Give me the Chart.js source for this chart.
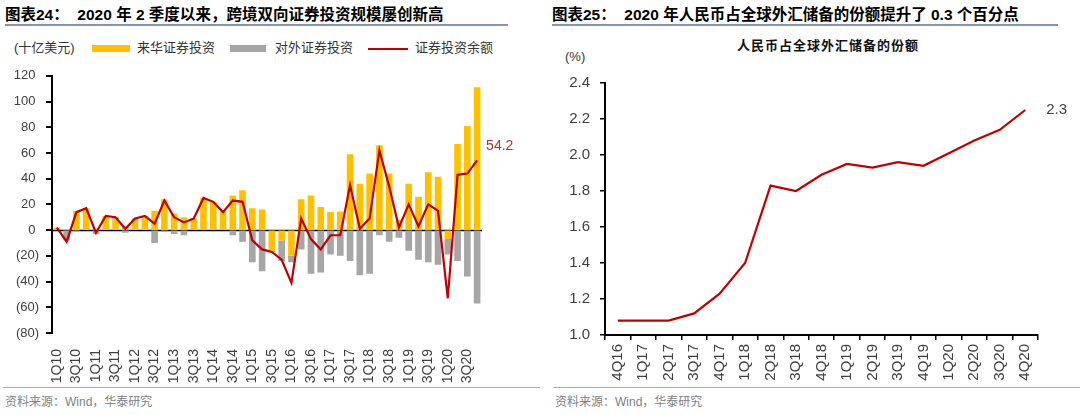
<!DOCTYPE html>
<html>
<head>
<meta charset="utf-8">
<script src="https://cdn.jsdelivr.net/npm/chart.js@4.4.0/dist/chart.umd.min.js"></script>
<style>
  body { margin: 0; width: 1080px; height: 415px; background: #fff; position: relative; overflow: hidden;
         font-family: "Liberation Sans", "Noto Sans CJK SC", sans-serif; }
  .abs { position: absolute; white-space: nowrap; }
  .title { top: 5px; font-size: 15.5px; font-weight: bold; color: #000; line-height: 20px; }
  .rule { position: absolute; height: 2px; background: #8496B0; }
  .rule2 { position: absolute; height: 1px; background: #9DB0CC; }
  .src { top: 392px; font-size: 12px; color: #7f7f7f; }
  .lg { top: 40px; font-size: 13px; color: #333; line-height: 16px; }
  .sw { position: absolute; }
  .ax { position: absolute; background: #000; z-index: 5; }
  canvas { position: absolute; }
</style>
</head>
<body>
<div class="abs title" style="left:5px;">图表24：&nbsp;&nbsp;2020 年 2 季度以来，跨境双向证券投资规模屡创新高</div>
<div class="rule" style="left:5px; top:24px; width:503px;"></div>
<div class="abs title" style="left:552px;">图表25：&nbsp;&nbsp;2020 年人民币占全球外汇储备的份额提升了 0.3 个百分点</div>
<div class="rule" style="left:552px; top:24px; width:506px;"></div>

<div class="abs lg" style="left:14px;">(十亿美元)</div>
<div class="sw" style="left:92px; top:45px; width:38px; height:7px; background:#FFC000;"></div>
<div class="abs lg" style="left:137px;">来华证券投资</div>
<div class="sw" style="left:230px; top:45px; width:36px; height:7px; background:#A6A6A6;"></div>
<div class="abs lg" style="left:275px;">对外证券投资</div>
<div class="sw" style="left:368px; top:48px; width:40px; height:2px; background:#C00000;"></div>
<div class="abs lg" style="left:415px;">证券投资余额</div>

<div class="abs" style="left:737px; top:35px; font-size:13px; font-weight:bold; letter-spacing:1px; color:#111;">人民币占全球外汇储备的份额</div>
<div class="abs" style="left:565px; top:49px; font-size:13px; color:#333;">(%)</div>

<canvas id="chartLeft" width="530" height="323" style="left:10px; top:60px;"></canvas>
<canvas id="chartRight" width="540" height="327" style="left:540px; top:60px;"></canvas>

<div class="rule2" style="left:3px; top:387px; width:537px;"></div>
<div class="rule2" style="left:553px; top:387px; width:527px;"></div>
<div class="abs src" style="left:5px;">资料来源：Wind，华泰研究</div>
<div class="abs src" style="left:555px;">资料来源：Wind，华泰研究</div>

<script>
// 图表24 data, 1Q10 - 4Q20
const quarters = [
  "1Q10","2Q10","3Q10","4Q10","1Q11","2Q11","3Q11","4Q11",
  "1Q12","2Q12","3Q12","4Q12","1Q13","2Q13","3Q13","4Q13",
  "1Q14","2Q14","3Q14","4Q14","1Q15","2Q15","3Q15","4Q15",
  "1Q16","2Q16","3Q16","4Q16","1Q17","2Q17","3Q17","4Q17",
  "1Q18","2Q18","3Q18","4Q18","1Q19","2Q19","3Q19","4Q19",
  "1Q20","2Q20","3Q20","4Q20"
];
const inflow = [
  2, 0, 15, 17, 1, 11, 8, 3,
  7, 11, 15, 24, 13, 10, 9, 25,
  22, 15, 27, 31, 17, 16, -16, -8,
  -20, 24, 27, 18, 14, 14.5, 59, 36,
  44, 66, 44, 8, 36, 26, 45, 41.5,
  -7, 67, 81, 111
];
const outflow = [
  0, -8, -1, 0, -3, 0, 2, -2,
  2, 0, -10, -1, -3, -4, 0, 0,
  0, 0, -4, -9, -25, -32, -1, -16,
  -5, -15, -34, -33, -19, -20, -24, -35,
  -34, -4, -9, -6, -16, -23, -25, -27,
  -12, -24, -36, -57
];
const balance = [
  2, -9, 14, 17, -2, 11, 10, 1,
  9, 11, 5, 23, 10, 6, 9, 25,
  22, 14, 23, 22, -8, -15, -17, -23,
  -41, 9, -7, -15, -4, -4, 35, 1,
  9, 62, 34, 2, 20, 3, 20, 15,
  -53, 43, 44, 54.2
];

// 图表25 data
const shareQuarters = [
  "4Q16","1Q17","2Q17","3Q17","4Q17","1Q18","2Q18","3Q18","4Q18",
  "1Q19","2Q19","3Q19","4Q19","1Q20","2Q20","3Q20","4Q20"
];
const rmbShare = [1.08, 1.08, 1.08, 1.12, 1.23, 1.40, 1.83, 1.80, 1.89,
                  1.95, 1.93, 1.96, 1.94, 2.01, 2.08, 2.14, 2.25];

const endLabel = {
  id: "endLabel",
  afterDatasetsDraw(chart, args, opts) {
    const meta = chart.getDatasetMeta(opts.index);
    const pt = meta.data[meta.data.length - 1];
    const ctx = chart.ctx;
    ctx.save();
    ctx.font = opts.font;
    ctx.fillStyle = opts.color;
    ctx.textAlign = "left";
    ctx.textBaseline = "middle";
    ctx.fillText(opts.text, pt.x + opts.dx, pt.y + opts.dy);
    ctx.restore();
  }
};

// zero line across the plot
const zeroLine = {
  id: "zeroLine",
  beforeDatasetsDraw(chart) {
    const ys = chart.scales.y;
    const { left, right } = chart.chartArea;
    const ctx = chart.ctx;
    const y0 = Math.round(ys.getPixelForValue(0)) + 0.5;
    ctx.save();
    ctx.strokeStyle = "#000";
    ctx.lineWidth = 1.5;
    ctx.beginPath();
    ctx.moveTo(left, y0);
    ctx.lineTo(right, y0);
    ctx.stroke();
    ctx.restore();
  }
};

Chart.defaults.font.family = "Liberation Sans";
Chart.defaults.color = "#404040";

const leftCanvas = document.getElementById("chartLeft");
const leftChart = new Chart(leftCanvas, {
  type: "bar",
  data: {
    labels: quarters,
    datasets: [
      { type: "line", label: "证券投资余额", data: balance, stack: "net",
        borderColor: "#C00000", borderWidth: 2.2, pointRadius: 0, tension: 0, order: 0 },
      { label: "来华证券投资", data: inflow, stack: "flow", backgroundColor: "#FFC000",
        barPercentage: 0.68, categoryPercentage: 1, order: 1 },
      { label: "对外证券投资", data: outflow, stack: "flow", backgroundColor: "#A6A6A6",
        barPercentage: 0.68, categoryPercentage: 1, order: 2 }
    ]
  },
  options: {
    responsive: false,
    animation: false,
    devicePixelRatio: 1,
    layout: { padding: { top: 12, right: 58, left: 0, bottom: 0 } },
    plugins: {
      legend: { display: false },
      tooltip: { enabled: false },
      endLabel: { index: 0, text: String(balance[balance.length - 1]), font: "14px Liberation Sans",
                  color: "#B03030", dx: 9, dy: -14 }
    },
    scales: {
      x: {
        stacked: true,
        grid: { display: false },
        border: { display: false },
        ticks: {
          autoSkip: false, maxRotation: 90, minRotation: 90, padding: 8,
          font: { size: 14 }, color: "#404040",
          callback: (v, i) => (i % 2 === 0 ? quarters[i] : "")
        },
        afterFit: s => { s.height = 50; }
      },
      y: {
        stacked: true,
        min: -80, max: 120,
        ticks: {
          stepSize: 20, padding: 8, font: { size: 13 }, color: "#404040",
          callback: v => (v < 0 ? "(" + (-v) + ")" : String(v) + " ")
        },
        grid: { display: true, drawOnChartArea: false, color: "rgba(0,0,0,0)", tickLength: 5 },
        border: { display: false },
        afterFit: s => { s.width = 42; }
      }
    }
  },
  plugins: [zeroLine, endLabel]
});

// left axis line and tick marks, placed from the chart's own y scale
(function drawLeftAxis() {
  const ys = leftChart.scales.y;
  const area = leftChart.chartArea;
  const ox = leftCanvas.offsetLeft, oy = leftCanvas.offsetTop;
  const x = Math.round(ox + area.left);
  const add = (l, t, w, h) => {
    const d = document.createElement("div");
    d.className = "ax";
    d.style.left = l + "px"; d.style.top = t + "px";
    d.style.width = w + "px"; d.style.height = h + "px";
    document.body.appendChild(d);
  };
  add(x - 1, Math.round(oy + area.top) - 1, 2, Math.round(area.bottom - area.top) + 2);
  ys.ticks.forEach(t => {
    const y = Math.round(oy + ys.getPixelForValue(t.value));
    add(x - 6, y - 1, 6, 1.5);
  });
})();

new Chart(document.getElementById("chartRight"), {
  type: "line",
  data: {
    labels: shareQuarters,
    datasets: [
      { label: "人民币占全球外汇储备的份额", data: rmbShare, borderColor: "#C00000",
        borderWidth: 2.2, pointRadius: 0, tension: 0 }
    ]
  },
  options: {
    responsive: false,
    animation: false,
    devicePixelRatio: 1,
    layout: { padding: { top: 23, right: 42, left: 0, bottom: 0 } },
    plugins: {
      legend: { display: false },
      tooltip: { enabled: false },
      endLabel: { index: 0, text: rmbShare[rmbShare.length - 1].toFixed(1), font: "15px Liberation Sans",
                  color: "#404040", dx: 21, dy: 0 }
    },
    scales: {
      x: {
        offset: true,
        grid: { offset: true, drawOnChartArea: false, color: "#000", tickLength: 5, lineWidth: 1.5 },
        border: { display: true, color: "#000", width: 2 },
        ticks: { autoSkip: false, maxRotation: 90, minRotation: 90, padding: 4,
                 font: { size: 15 }, color: "#404040" },
        afterFit: s => { s.height = 52; }
      },
      y: {
        min: 1.0, max: 2.4,
        ticks: { stepSize: 0.2, padding: 10, font: { size: 15 }, color: "#404040",
                 callback: v => v.toFixed(1) },
        grid: { drawOnChartArea: false, color: "#000", tickLength: 5, lineWidth: 1.5 },
        border: { display: true, color: "#000", width: 2 },
        afterFit: s => { s.width = 65; }
      }
    }
  },
  plugins: [endLabel]
});
</script>
</body>
</html>
